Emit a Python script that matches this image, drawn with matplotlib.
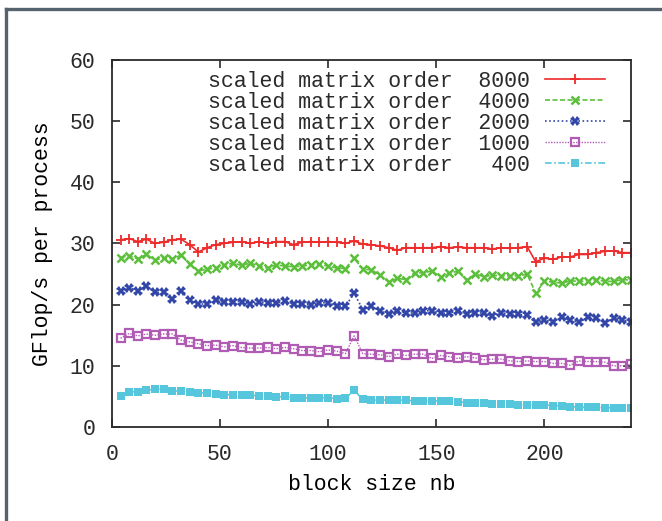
import matplotlib
matplotlib.use('Agg')
import matplotlib.pyplot as plt
from matplotlib.lines import Line2D

# block sizes nb = 4, 8, ..., 240
nb = list(range(4, 241, 4))

gf_8000 = [30.6, 30.8, 30.3, 30.7, 30.0, 30.2, 30.6, 30.7, 29.8, 28.6, 29.3, 29.8, 30.0, 30.2, 30.3,
           30.0, 30.3, 30.0, 30.3, 30.3, 29.8, 30.2, 30.3, 30.2, 30.3, 30.2, 30.0, 30.4, 29.9, 29.8,
           29.6, 29.3, 28.9, 29.3, 29.3, 29.3, 29.3, 29.5, 29.3, 29.4, 29.3, 29.3, 29.3, 29.1, 29.3,
           29.2, 29.3, 29.5, 27.0, 27.6, 27.4, 27.8, 27.8, 28.2, 28.2, 28.5, 28.7, 28.8, 28.5, 28.5]
gf_4000 = [27.7, 28.0, 27.5, 28.2, 27.3, 27.6, 27.5, 28.1, 26.6, 25.5, 25.8, 26.0, 26.4, 26.8, 26.4,
           26.8, 26.3, 26.0, 26.5, 26.3, 26.2, 26.3, 26.5, 26.6, 26.3, 26.0, 25.9, 27.6, 25.8, 25.7,
           24.8, 23.7, 24.3, 24.1, 25.2, 25.2, 25.5, 24.5, 25.1, 25.5, 24.0, 25.0, 24.6, 24.8, 24.7,
           24.7, 24.7, 25.0, 21.9, 23.8, 23.7, 23.5, 23.9, 23.8, 23.9, 24.1, 23.8, 23.8, 24.1, 24.0]
gf_2000 = [22.2, 22.8, 22.3, 23.1, 22.0, 22.0, 20.9, 22.2, 20.8, 20.1, 20.1, 20.8, 20.4, 20.5, 20.5,
           20.1, 20.5, 20.3, 20.2, 20.6, 20.1, 20.1, 19.9, 20.3, 20.3, 19.8, 19.7, 21.9, 19.2, 19.7,
           19.0, 18.4, 18.9, 18.7, 18.6, 19.0, 19.0, 18.6, 18.6, 19.0, 18.5, 18.7, 18.6, 18.2, 18.7,
           18.4, 18.4, 18.3, 17.2, 17.5, 17.2, 17.9, 17.5, 17.1, 17.9, 17.8, 17.05, 17.8, 17.5, 17.2]
gf_1000 = [14.5, 15.3, 14.9, 15.2, 15.0, 15.2, 15.2, 14.2, 13.9, 13.6, 13.3, 13.4, 13.1, 13.3, 13.0,
           12.9, 12.9, 13.0, 12.8, 13.0, 12.8, 12.5, 12.5, 12.3, 12.6, 12.4, 12.0, 14.9, 12.0, 11.9,
           11.8, 11.5, 11.9, 11.7, 11.9, 11.9, 11.2, 11.7, 11.5, 11.2, 11.5, 11.3, 11.0, 11.1, 11.1,
           10.8, 10.7, 10.8, 10.7, 10.7, 10.4, 10.4, 10.1, 10.8, 10.7, 10.7, 10.6, 10.0, 10.0, 10.25]
gf_400 = [5.0, 5.7, 5.8, 6.0, 6.2, 6.2, 5.9, 5.9, 5.8, 5.6, 5.5, 5.4, 5.3, 5.3, 5.2,
          5.2, 5.1, 5.1, 4.9, 5.0, 4.8, 4.8, 4.7, 4.8, 4.8, 4.6, 4.7, 6.0, 4.55, 4.4,
          4.4, 4.4, 4.4, 4.4, 4.25, 4.25, 4.25, 4.25, 4.25, 4.1, 4.0, 4.0, 3.9, 3.8, 3.8,
          3.7, 3.6, 3.6, 3.6, 3.6, 3.5, 3.5, 3.3, 3.3, 3.2, 3.2, 3.15, 3.15, 3.15, 3.15]

labels = ['scaled matrix order  8000',
          'scaled matrix order  4000',
          'scaled matrix order  2000',
          'scaled matrix order  1000',
          'scaled matrix order   400']

plt.rcParams['font.family'] = ['Liberation Mono', 'DejaVu Sans Mono']
plt.rcParams['font.size'] = 15.5
plt.rcParams['text.color'] = '#2a2a2a'

fig = plt.figure(figsize=(6.62, 5.21), dpi=100)
ax = fig.add_axes([0.169, 0.1804, 0.784, 0.7046])

ax.plot(nb, gf_8000, color='#ee2a2a', lw=1.2, ls='-', marker='+', ms=7, mew=1.3, label=labels[0])
ax.plot(nb, gf_4000, color='#5cbf3c', lw=1.2, ls=(0, (3, 1.5)), marker='x', ms=5.5, mew=1.8, label=labels[1])
ax.plot(nb, gf_2000, color='#3246a8', lw=1.2, ls=(0, (1, 1.5)), marker='X', ms=7, mew=0, label=labels[2])
ax.plot(nb, gf_1000, color='#b05cb5', lw=1.0, ls=(0, (1, 1)), marker='s', ms=5.5, mew=1.6, mfc='none', label=labels[3])
ax.plot(nb, gf_400, color='#56c6dc', lw=1.2, ls=(0, (4, 1.5, 1, 1.5)), marker='s', ms=5.5, mew=0, label=labels[4])

ax.set_xlim(0, 240)
ax.set_ylim(0, 60)
ax.set_xticks([0, 50, 100, 150, 200])
ax.set_yticks([0, 10, 20, 30, 40, 50, 60])
ax.tick_params(direction='in', length=6, width=1.2, top=True, right=True, colors='#2a2a2a', pad=12)
for s in ax.spines.values():
    s.set_linewidth(1.3)
    s.set_color('#2a2a2a')

ax.set_xlabel('block size nb', labelpad=7)
ax.set_ylabel('GFlop/s per process', labelpad=12)

leg = ax.legend(loc='upper right', bbox_to_anchor=(0.98, 1.012), frameon=False, markerfirst=False,
                handlelength=2.8, handletextpad=0.7, labelspacing=0.0, borderpad=0.2)
for t in leg.get_texts():
    t.set_ha('right')

# outer frame (top and left edges)
frame_col = '#54636d'
fig.add_artist(Line2D([5.5 / 662, 1.0], [1 - 8.5 / 521, 1 - 8.5 / 521], color=frame_col, lw=2.4, transform=fig.transFigure))
fig.add_artist(Line2D([5.5 / 662, 5.5 / 662], [0, 1 - 8.5 / 521], color=frame_col, lw=2.4, transform=fig.transFigure))

fig.savefig('out.png', dpi=100)
